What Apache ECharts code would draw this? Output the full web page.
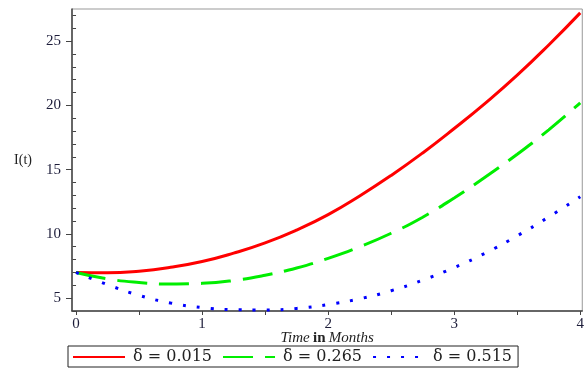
<!DOCTYPE html>
<html>
<head>
<meta charset="utf-8">
<script src="https://cdn.jsdelivr.net/npm/echarts@6/dist/echarts.min.js"></script>
<style>
  html, body { margin: 0; padding: 0; background: #fff; }
  #chart { width: 587px; height: 374px; }
</style>
</head>
<body>
<div id="chart"></div>
<script>
// Time in months
const t = [0, 0.25, 0.5, 0.75, 1, 1.25, 1.5, 1.75, 2, 2.25, 2.5, 2.75, 3, 3.25, 3.5, 3.75, 4];

// I(t) for three values of delta
const iDelta015 = [7.0, 6.97, 7.1, 7.4, 7.85, 8.5, 9.3, 10.3, 11.5, 12.95, 14.55, 16.3, 18.2, 20.2, 22.35, 24.7, 27.2];
const iDelta265 = [7.0, 6.5, 6.22, 6.1, 6.15, 6.37, 6.78, 7.35, 8.1, 9.0, 10.05, 11.3, 12.8, 14.45, 16.2, 18.1, 20.2];
const iDelta515 = [7.0, 6.05, 5.22, 4.62, 4.27, 4.1, 4.08, 4.2, 4.5, 4.95, 5.58, 6.4, 7.38, 8.52, 9.85, 11.32, 12.9];

const seriesNames = ['\u03b4 = 0.015', '\u03b4 = 0.265', '\u03b4 = 0.515'];

const xLabels = [0, 1, 2, 3, 4];
const xTicks = [0, 0.5, 1, 1.5, 2, 2.5, 3, 3.5, 4];
const yLabels = [5, 10, 15, 20, 25];
const yMinorTicks = [4, 6, 7, 8, 9, 11, 12, 13, 14, 16, 17, 18, 19, 21, 22, 23, 24, 26, 27];

const pairs = (ys) => t.map((x, i) => [x, ys[i]]);

const serif = '"Liberation Serif", "DejaVu Serif", serif';
const legendFont = '"DejaVu Serif", "Liberation Serif", serif';
const labelColor = '#1d1d3a';
const axisColor = '#444';

const chart = echarts.init(document.getElementById('chart'), null, { renderer: 'canvas' });

const xRange = { min: -0.032, max: 4.016 };
const yRange = { min: 4, max: 27.5 };

chart.setOption({
  animation: false,
  backgroundColor: '#fff',
  grid: {
    left: 72, right: 2, top: 9, bottom: 63,
    show: true, borderColor: '#999', borderWidth: 1
  },
  xAxis: {
    type: 'value',
    ...xRange,
    axisLine: { show: true, onZero: false, lineStyle: { color: axisColor, width: 1.5 } },
    axisTick: { show: true, customValues: xTicks, length: 4, lineStyle: { color: axisColor } },
    axisLabel: {
      customValues: xLabels, margin: 6,
      fontFamily: serif, fontSize: 15, color: labelColor
    },
    splitLine: { show: false },
    name: '{i|Time} {b|in} {i|Months}',
    nameLocation: 'middle',
    nameMoveOverlap: false,
    nameGap: 20,
    nameTextStyle: {
      rich: {
        i: { fontFamily: serif, fontStyle: 'italic', fontSize: 15, color: '#222' },
        b: { fontFamily: serif, fontWeight: 'bold', fontSize: 15, color: '#222' }
      }
    }
  },
  yAxis: [
    {
      type: 'value',
      ...yRange,
      axisLine: { show: true, onZero: false, lineStyle: { color: axisColor, width: 1.5 } },
      axisTick: { show: true, customValues: yLabels, length: 6, lineStyle: { color: axisColor } },
      axisLabel: {
        customValues: yLabels, margin: 11,
        fontFamily: serif, fontSize: 15, color: labelColor
      },
      splitLine: { show: false },
      name: 'I(t)',
      nameLocation: 'middle',
      nameMoveOverlap: false,
      nameRotate: 0,
      nameGap: 40,
      nameTextStyle: { fontFamily: serif, fontSize: 14, color: '#222' }
    },
    {
      type: 'value',
      position: 'left',
      ...yRange,
      axisLine: { show: false },
      axisTick: { show: true, customValues: yMinorTicks, length: 3.5, lineStyle: { color: axisColor } },
      axisLabel: { show: false },
      splitLine: { show: false }
    }
  ],
  legend: {
    left: 68, top: 346,
    orient: 'horizontal',
    itemWidth: 52, itemHeight: 14, itemGap: 10,
    padding: [3, 6, 2, 4],
    borderColor: '#222', borderWidth: 1,
    itemStyle: { opacity: 0 },
    textStyle: { fontFamily: legendFont, fontSize: 16, color: '#222', padding: [0, 0, 0, 3] },
    data: seriesNames
  },
  series: [
    {
      name: seriesNames[0], type: 'line', data: pairs(iDelta015),
      smooth: true, symbol: 'none',
      lineStyle: { color: '#ff0000', width: 3 }, itemStyle: { color: '#ff0000' }
    },
    {
      name: seriesNames[1], type: 'line', data: pairs(iDelta265),
      smooth: true, symbol: 'none',
      lineStyle: { color: '#00ee00', width: 3, type: [30, 12] }, itemStyle: { color: '#00ee00' }
    },
    {
      name: seriesNames[2], type: 'line', data: pairs(iDelta515),
      smooth: true, symbol: 'none',
      lineStyle: { color: '#0000ff', width: 3, type: [3, 11] }, itemStyle: { color: '#0000ff' }
    }
  ]
});
</script>
</body>
</html>
